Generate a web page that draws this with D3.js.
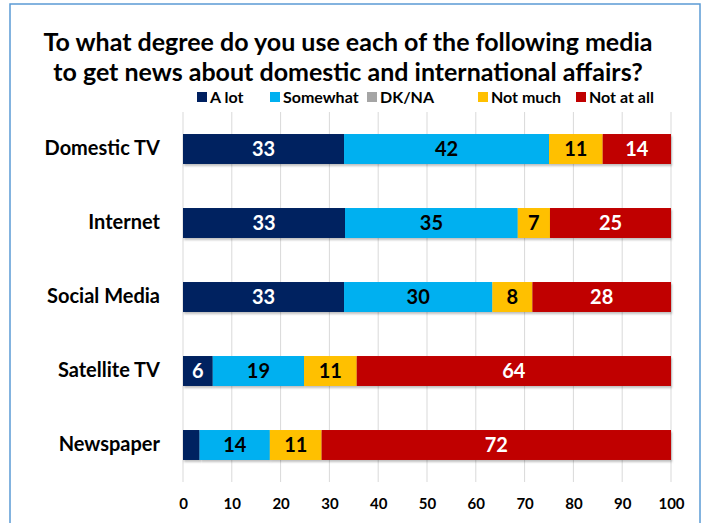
<!DOCTYPE html>
<html><head><meta charset="utf-8">
<script src="https://cdn.jsdelivr.net/npm/d3@7"></script>
<style>
html,body{margin:0;padding:0;background:#fff;}
text{font-family:Lato,"Open Sans",sans-serif;font-weight:bold;}
</style></head>
<body><svg id="c" width="702" height="523"></svg>
<script>
const categories = ["Domestic TV","Internet","Social Media","Satellite TV","Newspaper"];
const seriesNames = ["A lot","Somewhat","DK/NA","Not much","Not at all"];
const aLot     = [33, 33.2, 33, 6.1, 3.4];
const somewhat = [42, 35.4, 30.4, 18.7, 14.4];
const dkna     = [0, 0, 0, 0, 0];
const notMuch  = [11, 6.6, 8.2, 10.8, 10.6];
const notAtAll = [14, 24.8, 28.4, 64.4, 71.6];
const tickValues = [0,10,20,30,40,50,60,70,80,90,100];
const titleLines = ["To what degree do you use each of the following media","to get news about domestic and international affairs?"];
const colors = ["#002060","#00B0F0","#A5A5A5","#FFC000","#C00000"];
const labelColors = ["#fff","#000","#000","#000","#fff"];

const svg = d3.select("#c");
const seriesVals = [aLot, somewhat, dkna, notMuch, notAtAll];
const rows = categories.map((c,i)=>{const o={cat:c}; seriesNames.forEach((s,j)=>o[s]=seriesVals[j][i]); return o;});
const stack = d3.stack().keys(seriesNames)(rows);

const x = d3.scaleLinear().domain([0,100]).range([183,671]);
const y = d3.scaleBand().domain(categories).range([112,482]).paddingInner(0.595).paddingOuter(0.2975);

// border
svg.append("rect").attr("x",10).attr("y",4).attr("width",690).attr("height",540)
  .attr("fill","none").attr("stroke","#5B9BD5").attr("stroke-width",1.5);

// title
svg.append("g").selectAll("text").data(titleLines).join("text")
  .attr("x",348).attr("y",(d,i)=>51+i*30).attr("text-anchor","middle")
  .attr("font-size",25).attr("fill","#000").text(d=>d);

// gridlines
svg.append("g").selectAll("line").data(tickValues).join("line")
  .attr("x1",d=>x(d)).attr("x2",d=>x(d)).attr("y1",112).attr("y2",482)
  .attr("stroke","#D9D9D9").attr("stroke-width",1);

// axis
const ax = svg.append("g").attr("transform","translate(0,498)")
  .call(d3.axisBottom(x).tickValues(tickValues).tickSize(0).tickPadding(0));
ax.select(".domain").remove();
ax.selectAll("text").attr("font-size",15).attr("fill","#000").attr("dy","0.71em")
  .style("font-family","Lato, 'Open Sans', sans-serif").style("font-weight","bold");

// category axis
const ay = svg.append("g").attr("transform","translate(160,0)")
  .call(d3.axisLeft(y).tickSize(0).tickPadding(0));
ay.select(".domain").remove();
ay.selectAll("text").attr("font-size",20).attr("fill","#000")
  .style("font-family","Lato, 'Open Sans', sans-serif").style("font-weight","bold");

// shadow
const defs = svg.append("defs");
const f = defs.append("filter").attr("id","sh").attr("x","-5%").attr("y","-20%").attr("width","110%").attr("height","150%");
f.append("feDropShadow").attr("dx",1).attr("dy",2).attr("stdDeviation",1.2).attr("flood-color","#000").attr("flood-opacity",0.25);

// bars
const bars = svg.append("g");
stack.forEach((layer,j)=>{
  const g = bars.append("g").attr("fill",colors[j]);
  g.selectAll("rect").data(layer).join("rect")
    .attr("x",d=>x(d[0])).attr("y",d=>y(d.data.cat))
    .attr("width",d=>x(d[1])-x(d[0])).attr("height",y.bandwidth())
    .attr("filter","url(#sh)");
});
stack.forEach((layer,j)=>{
  bars.append("g").selectAll("text").data(layer.filter(d=>d[1]-d[0]>=5)).join("text")
    .attr("x",d=>(x(d[0])+x(d[1]))/2).attr("y",d=>y(d.data.cat)+y.bandwidth()/2)
    .attr("dy","0.36em").attr("text-anchor","middle").attr("font-size",20)
    .attr("fill",labelColors[j]).text(d=>Math.round(d[1]-d[0]));
});

// legend
const legX = [197,270,367,478,576];
const leg = svg.append("g").attr("transform","translate(0,97)");
seriesNames.forEach((s,j)=>{
  leg.append("rect").attr("x",legX[j]).attr("y",-5).attr("width",10).attr("height",10).attr("fill",colors[j]);
  leg.append("text").attr("x",legX[j]+13).attr("y",0).attr("dy","0.35em").attr("font-size",16).attr("fill","#000").text(s);
});
</script></body></html>
